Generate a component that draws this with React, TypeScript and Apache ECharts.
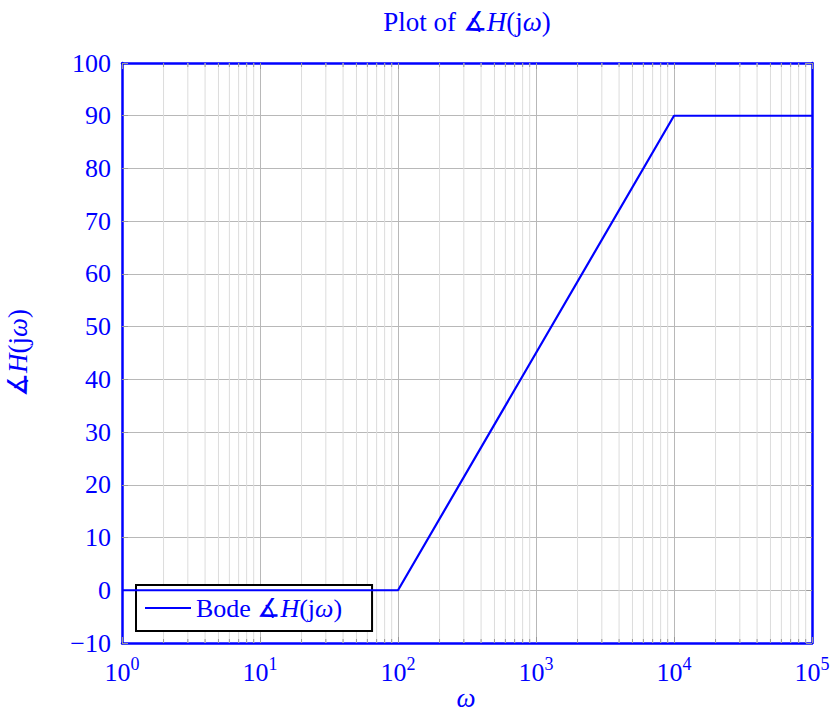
import React, { useEffect, useRef } from "react";
import * as echarts from "echarts";

const omega = [1, 100, 10000, 100000];
const phase = [0, 0, 90, 90];
const decades = [1, 10, 100, 1000, 10000];
const minorMultipliers = [2, 3, 4, 5, 6, 7, 8, 9];
const yMin = -10;
const yMax = 100;
const yStep = 10;

const BLUE = "#0000ff";
const FONT = "'Liberation Serif', 'DejaVu Serif', serif";

const mkRich = (size: number, lh?: number) => ({
  n: { fontFamily: FONT, fontSize: size, color: BLUE, fill: BLUE, lineHeight: lh },
  i: { fontFamily: FONT, fontSize: size, color: BLUE, fill: BLUE, fontStyle: "italic" as const, lineHeight: lh },
});

export default function App() {
  const ref = useRef<HTMLDivElement>(null);
  useEffect(() => {
    if (!ref.current) return;
    const chart = echarts.init(ref.current, undefined, { renderer: "svg" });
    const minors: number[][] = [];
    decades.forEach((d) => minorMultipliers.forEach((m) => minors.push([m * d, 0])));
    const lineData = omega.map((w, k) => [w, phase[k]]);

    const commonX = {
      type: "log" as const,
      min: 1,
      max: 100000,
      logBase: 10,
    };
    const commonY = {
      type: "value" as const,
      min: yMin,
      max: yMax,
      interval: yStep,
    };
    const axisLine = { show: true, onZero: false, lineStyle: { color: BLUE, width: 2.5 } };
    const axisTick = { show: true, inside: true, length: 6, lineStyle: { color: "#999999" } };

    chart.setOption({
      animation: false,
      grid: { left: 122, top: 63, width: 690, height: 580, containLabel: false, outerBoundsMode: "none" },
      graphic: [
        {
          type: "text",
          x: 467,
          y: 22,
          style: {
            text: "{n|Plot of ∡}{i|H}{n|(j}{i|ω}{n|)}",
            rich: mkRich(27),
            fill: BLUE,
            align: "center",
            verticalAlign: "middle",
          },
        },
        {
          type: "text",
          x: 466,
          y: 698,
          style: {
            text: "{i|ω}",
            rich: mkRich(27, 22),
            fill: BLUE,
            align: "center",
            verticalAlign: "middle",
          },
        },
      ],
      legend: {
        left: 136,
        top: 585,
        orient: "vertical",
        backgroundColor: "#ffffff",
        borderColor: "#000000",
        borderWidth: 2,
        borderRadius: 0,
        padding: [9, 30, 9, 9],
        itemWidth: 46,
        itemHeight: 2,
        itemGap: 8,
        icon: "rect",
        data: [{ name: "bode", icon: "rect" }],
        formatter: () => "{n|Bode ∡}{i|H}{n|(j}{i|ω}{n|)}",
        textStyle: { rich: mkRich(26), color: BLUE, fontFamily: FONT, fontSize: 26, lineHeight: 28 },
      },
      xAxis: [
        {
          ...commonX,
          position: "bottom",
          axisLine,
          axisTick,
          axisLabel: {
            show: true,
            margin: 12,
            formatter: (v: number) => {
              const e = Math.round(Math.log10(v));
              return "{b|10}{s|" + e + "}";
            },
            rich: {
              b: { fontFamily: FONT, fontSize: 26, color: BLUE, verticalAlign: "bottom", lineHeight: 30 },
              s: { fontFamily: FONT, fontSize: 18, color: BLUE, verticalAlign: "top", lineHeight: 30, padding: [0, 0, 12, 0] },
            },
          },
          splitLine: { show: true, lineStyle: { color: "#b8b8b8", width: 1 } },
          minorTick: { show: false },
        },
        {
          ...commonX,
          position: "top",
          axisLine,
          axisTick,
          axisLabel: { show: false },
          splitLine: { show: false },
        },
      ],
      yAxis: [
        {
          ...commonY,
          position: "left",
          name: "{n|∡}{i|H}{n|(j}{i|ω}{n|)}",
          nameLocation: "middle",
          nameRotate: 90,
          nameGap: 91,
          nameTextStyle: { rich: mkRich(27) },
          axisLine,
          axisTick,
          axisLabel: {
            show: true,
            margin: 11,
            color: BLUE,
            fontFamily: FONT,
            fontSize: 26,
            formatter: (v: number) => (v < 0 ? "\u2212" + Math.abs(v) : String(v)),
          },
          splitLine: { show: true, lineStyle: { color: "#b8b8b8", width: 1 } },
        },
        {
          ...commonY,
          position: "right",
          axisLine,
          axisTick,
          axisLabel: { show: false },
          splitLine: { show: false },
        },
      ],
      series: [
        {
          type: "custom",
          name: "minor",
          xAxisIndex: 0,
          yAxisIndex: 0,
          z: 1,
          silent: true,
          clip: false,
          data: minors,
          renderItem: (params: any, api: any) => {
            const cs = params.coordSys;
            const x = api.coord([api.value(0), 0])[0];
            const top = cs.y;
            const bot = cs.y + cs.height;
            return {
              type: "group",
              children: [
                { type: "line", shape: { x1: x, y1: top, x2: x, y2: bot }, style: { stroke: "#dcdcdc", lineWidth: 1 } },
                { type: "line", shape: { x1: x, y1: bot, x2: x, y2: bot - 4 }, style: { stroke: "#999999", lineWidth: 1 } },
                { type: "line", shape: { x1: x, y1: top, x2: x, y2: top + 4 }, style: { stroke: "#999999", lineWidth: 1 } },
              ],
            };
          },
        },
        {
          type: "line",
          name: "bode",
          xAxisIndex: 0,
          yAxisIndex: 0,
          z: 5,
          data: lineData,
          symbol: "none",
          showSymbol: false,
          color: BLUE,
          lineStyle: { color: BLUE, width: 2.2 },
          itemStyle: { color: BLUE },
        },
      ],
    });
    return () => chart.dispose();
  }, []);
  return (
    <div
      ref={ref}
      style={{ position: "absolute", left: 0, top: 0, width: 833, height: 713, background: "#ffffff" }}
    />
  );
}
